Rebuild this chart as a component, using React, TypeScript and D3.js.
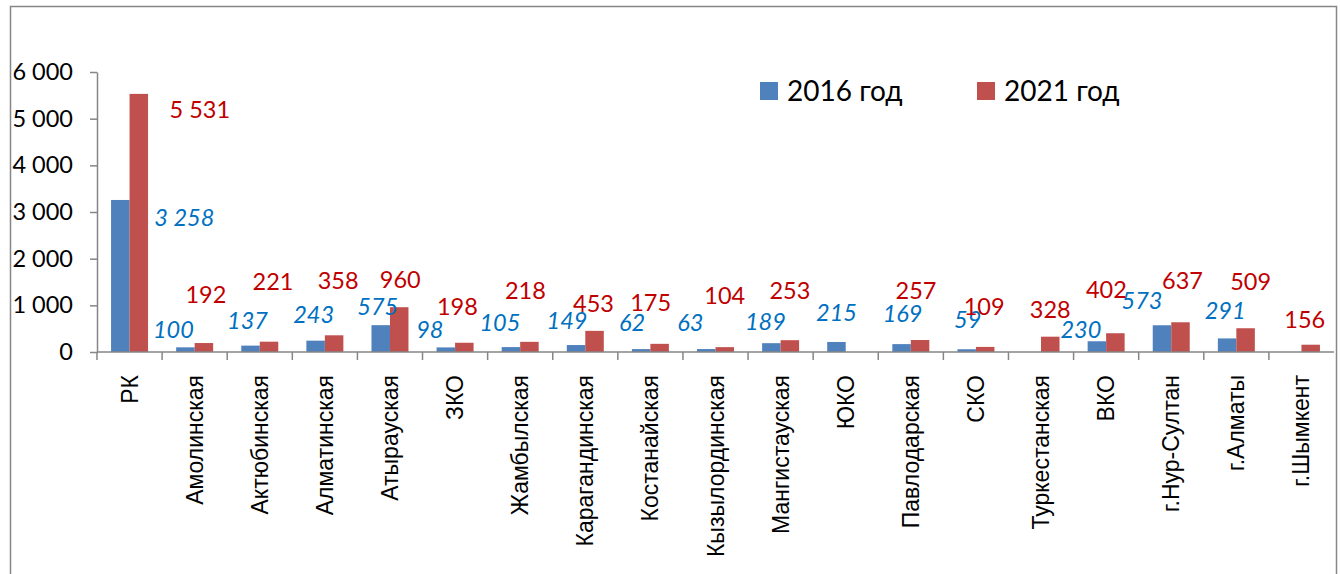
import React, { useEffect, useRef } from "react";
import * as d3 from "d3";

const categories = [
  "РК",
  "Амолинская",
  "Актюбинская",
  "Алматинская",
  "Атырауская",
  "ЗКО",
  "Жамбылская",
  "Карагандинская",
  "Костанайская",
  "Кызылординская",
  "Мангистауская",
  "ЮКО",
  "Павлодарская",
  "СКО",
  "Туркестанская",
  "ВКО",
  "г.Нур-Султан",
  "г.Алматы",
  "г.Шымкент",
];

const values2016: (number | null)[] = [
  3258, 100, 137, 243, 575, 98, 105, 149, 62, 63, 189, 215, 169, 59, null, 230, 573, 291, null,
];
const values2021: (number | null)[] = [
  5531, 192, 221, 358, 960, 198, 218, 453, 175, 104, 253, null, 257, 109, 328, 402, 637, 509, 156,
];

const seriesNames = ["2016 год", "2021 год"];
const yTicks = [0, 1000, 2000, 3000, 4000, 5000, 6000];

// label nudges (px) from bar centre / bar top, as placed by hand in the original
const nudge2016: [number, number][] = [
  [64, 18], [-12, -18], [-3, -25], [-2, -26], [-3, -18], [-16, -18], [-11, -24], [-9, -24],
  [-9, -26], [-16, -26], [-6, -21], [0, -29], [1, -30], [1, -29], [0, 0], [-16, -11],
  [-20, -24], [-2, -28], [0, 0],
];
const nudge2021: [number, number][] = [
  [61, 16], [2, -48], [4, -60], [4, -55], [1, -27], [-7, -36], [-4, -51], [-1, -27],
  [-9, -41], [0, -51], [0, -49], [0, 0], [-4, -49], [-1, -40], [0, -27], [-9, -43],
  [2, -41], [5, -46], [-6, -25],
];

const colors = ["#4F81BD", "#C0504D"];
const labelColors = ["#0070C0", "#C00000"];
const grey = "#868686";
const numFont = "Lato, 'Open Sans', sans-serif";
const catFont = "'Liberation Sans', Arial, sans-serif";

export default function App() {
  const svgRef = useRef<SVGSVGElement | null>(null);

  useEffect(() => {
    if (!svgRef.current) return;
    const svg = d3.select(svgRef.current);
    svg.selectAll("*").remove();

    const W = 1340;
    const H = 574;
    svg.attr("width", W).attr("height", H);

    // chart frame
    svg
      .append("path")
      .attr("d", `M10.5,${H}V6.5H1336.5V${H}`)
      .attr("fill", "none")
      .attr("stroke", grey)
      .attr("stroke-width", 1.5);

    const x = d3.scaleBand<string>().domain(categories).range([97, 1334]);
    const x1 = d3
      .scaleBand<string>()
      .domain(seriesNames)
      .range([0, x.bandwidth()])
      .paddingOuter(0.76);
    const y = d3.scaleLinear().domain([0, 6000]).range([352, 72]);

    const fmt = (v: number) => d3.format(",")(v).replace(/,/g, " ");

    // y axis
    const yAxis = svg
      .append("g")
      .attr("transform", "translate(97,0)")
      .call(
        d3
          .axisLeft(y)
          .tickValues(yTicks)
          .tickSize(7)
          .tickSizeOuter(0)
          .tickPadding(17)
          .tickFormat((d) => fmt(d as number))
      );
    yAxis.select(".domain").attr("stroke", grey).attr("stroke-width", 1.5);
    yAxis.selectAll(".tick line").attr("stroke", grey).attr("stroke-width", 1.5);
    yAxis
      .selectAll(".tick text")
      .attr("fill", "#000")
      .style("font-family", numFont)
      .style("font-size", "23.5px");

    // bars
    const series = [values2016, values2021];
    series.forEach((vals, s) => {
      svg
        .append("g")
        .selectAll("rect")
        .data(categories.map((c, i) => ({ c, v: vals[i] })).filter((d) => d.v != null))
        .join("rect")
        .attr("x", (d) => (x(d.c) as number) + (x1(seriesNames[s]) as number))
        .attr("y", (d) => y(d.v as number))
        .attr("width", x1.bandwidth())
        .attr("height", (d) => y(0) - y(d.v as number))
        .attr("fill", colors[s]);
    });

    // x axis
    const xAxis = svg.append("g");
    xAxis
      .append("line")
      .attr("x1", 97)
      .attr("x2", 1334)
      .attr("y1", y(0))
      .attr("y2", y(0))
      .attr("stroke", grey)
      .attr("stroke-width", 1.5);
    const bounds = categories.map((c) => x(c) as number);
    xAxis
      .selectAll("line.tk")
      .data(bounds)
      .join("line")
      .attr("class", "tk")
      .attr("x1", (d) => d)
      .attr("x2", (d) => d)
      .attr("y1", y(0))
      .attr("y2", y(0) + 8)
      .attr("stroke", grey)
      .attr("stroke-width", 1.5);
    xAxis
      .selectAll("text")
      .data(categories)
      .join("text")
      .attr(
        "transform",
        (d) => `translate(${(x(d) as number) + x.bandwidth() / 2 + 8},375) rotate(-90)`
      )
      .attr("text-anchor", "end")
      .style("font-family", catFont)
      .style("font-size", "23px")
      .attr("fill", "#000")
      .text((d) => d);

    // data labels
    const nudges = [nudge2016, nudge2021];
    series.forEach((vals, s) => {
      svg
        .append("g")
        .selectAll("text")
        .data(categories.map((c, i) => ({ c, v: vals[i], n: nudges[s][i] })).filter((d) => d.v != null))
        .join("text")
        .attr(
          "x",
          (d) => (x(d.c) as number) + (x1(seriesNames[s]) as number) + x1.bandwidth() / 2 + d.n[0]
        )
        .attr("y", (d) => y(d.v as number) + d.n[1])
        .attr("dy", "0.35em")
        .attr("text-anchor", "middle")
        .style("font-family", numFont)
        .style("font-size", "23.5px")
        .style("font-style", s === 0 ? "italic" : "normal")
        .attr("fill", labelColors[s])
        .text((d) => fmt(d.v as number));
    });

    // legend
    const legendX = [760, 977];
    seriesNames.forEach((name, s) => {
      const g = svg.append("g").attr("transform", `translate(${legendX[s]},82)`);
      g.append("rect").attr("width", 18).attr("height", 18).attr("fill", colors[s]);
      g.append("text")
        .attr("x", 27)
        .attr("y", 9)
        .attr("dy", "0.36em")
        .style("font-family", numFont)
        .style("font-size", "28px")
        .attr("fill", "#000")
        .text(name);
    });
  }, []);

  return (
    <div style={{ position: "absolute", left: 0, top: 0 }}>
      <svg ref={svgRef}></svg>
    </div>
  );
}
